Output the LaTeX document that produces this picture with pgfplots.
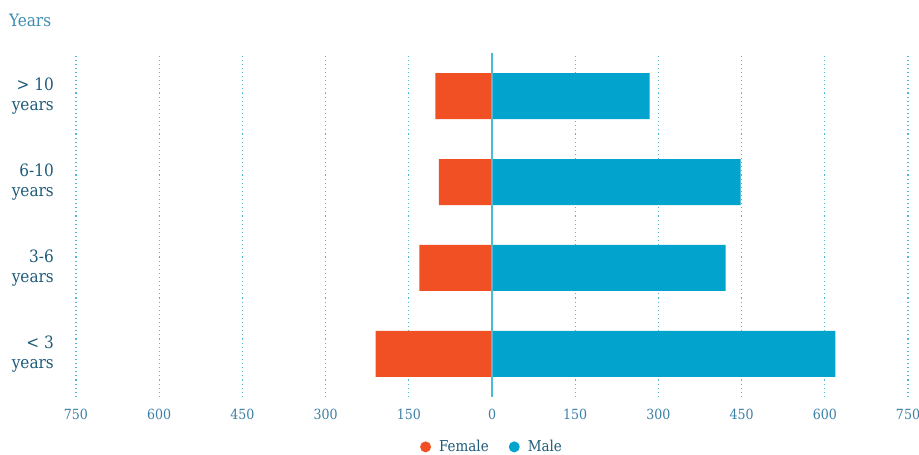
\documentclass[border=0pt]{standalone}
\usepackage{pgfplots}
\pgfplotsset{compat=1.18}
\usepackage{fontspec}
\setmainfont{DejaVu Serif Condensed}
\definecolor{fem}{HTML}{F05023}
\definecolor{mal}{HTML}{02A4CD}
\definecolor{gridc}{HTML}{4ABBDA}
\definecolor{lab}{HTML}{1E5B7B}
\definecolor{tickc}{HTML}{3A7FA6}
\definecolor{ttl}{HTML}{3C8DB3}
\begin{document}
\begin{tikzpicture}[x=1pt,y=1pt]
\path[use as bounding box] (0,0) rectangle (919,455);
\node[anchor=base west, font=\fontsize{17}{20}\selectfont, text=ttl, inner sep=0pt] at (9,428) {Years};
\begin{axis}[
  at={(76pt,58pt)}, anchor=south west,
  scale only axis, width=832pt, height=344pt,
  xmin=-750, xmax=750, ymin=-0.5, ymax=3.5,
  axis line style={draw=none},
  major tick length=0pt,
  xtick={-750,-600,...,750},
  xticklabels={750,600,450,300,150,0,150,300,450,600,750},
  ytick={0,1,2,3},
  yticklabels={{< 3\\years},{3-6\\years},{6-10\\years},{> 10\\years}},
  yticklabel style={align=right, font=\fontsize{17}{20}\selectfont, text=lab, inner sep=0pt, xshift=-22pt},
  xticklabel style={font=\fontsize{14}{16}\selectfont, text=tickc, inner sep=0pt, yshift=-12pt},
  xmajorgrids,
  grid style={draw=gridc, line width=1.1pt, dash pattern=on 1.1pt off 3pt},
  legend style={at={(0.5,-0.145)}, anchor=center, draw=none, fill=none,
    legend columns=2, font=\fontsize{15}{17}\selectfont, text=lab,
    /tikz/every odd column/.append style={column sep=6pt},
    /tikz/every even column/.append style={column sep=18pt}},
]
\addplot[xbar, bar width=46pt, bar shift=0pt, fill=fem, draw=none,
  legend image code/.code={\fill[fem] (0pt,0pt) circle (5.5pt);}]
  coordinates {(-210,0) (-131,1) (-96,2) (-102,3)};
\addlegendentry{Female}
\addplot[xbar, bar width=46pt, bar shift=0pt, fill=mal, draw=none,
  legend image code/.code={\fill[mal] (0pt,0pt) circle (5.5pt);}]
  coordinates {(619,0) (421,1) (448,2) (284,3)};
\addlegendentry{Male}
\draw[draw=gridc, line width=1.5pt] (axis cs:0,-0.5) -- (axis cs:0,3.5);
\end{axis}
\end{tikzpicture}
\end{document}
